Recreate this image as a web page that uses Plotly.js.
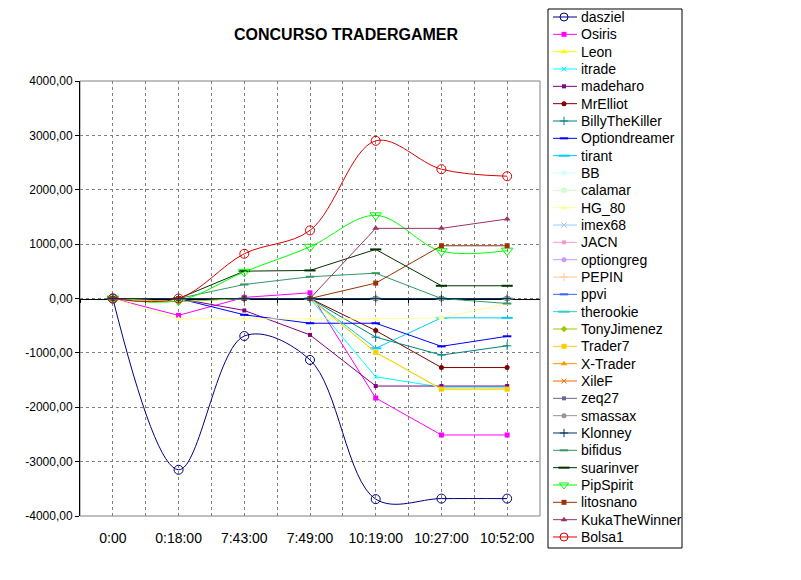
<!DOCTYPE html>
<html>
<head>
<meta charset="utf-8">
<script src="https://cdn.plot.ly/plotly-3.0.1.min.js"></script>
<style>html,body{margin:0;padding:0;background:#fff}#chart{width:801px;height:580px}</style>
</head>
<body>
<div id="chart"></div>
<script>
// ---------- DATA ----------
const categories = ['0:00', '0:18:00', '7:43:00', '7:49:00', '10:19:00', '10:27:00', '10:52:00'];

const dasziel        = [0, -3150, -690, -1130, -3690, -3680, -3680];
const Osiris         = [0, -310, 20, 105, -1830, -2510, -2510];
const Leon           = [0, 0, 0, 0, -990, -1665, -1665];
const itrade         = [0, 0, 0, 0, -1440, -1630, -1630];
const madeharo       = [0, 0, -220, -670, -1610, -1610, -1610];
const MrElliot       = [0, 0, 0, 0, -590, -1270, -1270];
const BillyTheKiller = [0, 0, 0, 0, -710, -1040, -870];
const Optiondreamer  = [0, 0, -300, -455, -455, -880, -695];
const tirant         = [0, 0, 0, 0, -916, -356, -356];
const BB             = [0, 0, 0, 0, 0, 0, 0];
const calamar        = [0, 0, 0, 0, -990, -1680, -1680];
const HG_80          = [0, -375, -375, -375, -375, -356, -92];
const imex68         = [0, 0, 0, 0, 0, 0, 0];
const JACN           = [0, 0, 0, 0, 0, 0, 0];
const optiongreg     = [0, 0, 0, 0, 0, 0, 0];
const PEPIN          = [0, 0, 0, 0, 0, 0, 0];
const ppvi           = [0, 0, 0, 0, 0, 0, 0];
const therookie      = [0, 0, 0, 0, 0, 0, 0];
const TonyJimenez    = [0, -60, 0, 0, 0, 0, 0];
const Trader7        = [0, 0, 0, 0, -990, -1665, -1665];
const XTrader        = [0, 0, 0, 0, 0, 0, 0];
const XileF          = [0, 0, 0, 0, 0, 0, 0];
const zeq27          = [0, 0, 0, 0, 0, 0, 0];
const smassax        = [0, 0, 0, 0, 0, 0, 0];
const Klonney        = [0, 0, 0, 0, 0, 0, 0];
const bifidus        = [0, 0, 258, 400, 466, 0, -92];
const suarinver      = [0, 0, 503, 516, 903, 234, 234];
const PipSpirit      = [0, -40, 490, 950, 1530, 870, 880];
const litosnano      = [0, 0, 0, 0, 283, 970, 970];
const KukaTheWinner  = [0, 0, 0, 0, 1290, 1290, 1462];
const Bolsa1         = [0, 0, 823, 1253, 2900, 2378, 2249];

const seriesNames = ['dasziel','Osiris','Leon','itrade','madeharo','MrElliot','BillyTheKiller','Optiondreamer','tirant','BB','calamar','HG_80','imex68','JACN','optiongreg','PEPIN','ppvi','therookie','TonyJimenez','Trader7','X-Trader','XileF','zeq27','smassax','Klonney','bifidus','suarinver','PipSpirit','litosnano','KukaTheWinner','Bolsa1'];
const seriesValues = [dasziel,Osiris,Leon,itrade,madeharo,MrElliot,BillyTheKiller,Optiondreamer,tirant,BB,calamar,HG_80,imex68,JACN,optiongreg,PEPIN,ppvi,therookie,TonyJimenez,Trader7,XTrader,XileF,zeq27,smassax,Klonney,bifidus,suarinver,PipSpirit,litosnano,KukaTheWinner,Bolsa1];

const yTickVals = [-4000, -3000, -2000, -1000, 0, 1000, 2000, 3000, 4000];
const yTickText = ['-4000,00', '-3000,00', '-2000,00', '-1000,00', '0,00', '1000,00', '2000,00', '3000,00', '4000,00'];

// ---------- STYLES ----------
const colors = ['#000080','#FF00FF','#FFFF00','#00FFFF','#800080','#800000','#008080','#0000FF','#00CCFF','#CCFFFF','#CCFFCC','#FFFF99','#99CCFF','#FF99CC','#CC99FF','#FFCC99','#3366FF','#33CCCC','#99CC00','#FFCC00','#FF9900','#FF6600','#666699','#969696','#003366','#339966','#003300','#00FF00','#993300','#993366','#DD0000'];
const symbols = ['circle-open','square','triangle-up','x-thin-open','square','circle','cross-thin-open','line-ew-open','line-ew-open','diamond','square','triangle-up','x-thin-open','square','circle','cross-thin-open','line-ew-open','line-ew-open','diamond','square','triangle-up','x-thin-open','square','circle','cross-thin-open','line-ew-open','line-ew-open','triangle-down-open','square','triangle-up','circle-open'];
const sizes = [9,5,6,5,4,5,6,6,8,5,5,6,5,4,5,6,6,8,5,5,6,5,4,5,6,6,8,10,5,6,9];
const smooth = {dasziel: true, PipSpirit: true, Bolsa1: true};
const onAxis2 = {Klonney: true};

const W = 801, H = 580;
const plotL = 80, plotR = 540, plotT = 81, plotB = 516;
const legL = 548, legR = 682, legT = 9, legB = 548, legRow0 = 17, legGap = 17.333;
const FONT = 'Liberation Sans, Arial, sans-serif';

const xd = [plotL / W, plotR / W];
const yd = [1 - plotB / H, 1 - plotT / H];

function markerLineWidth(sym) {
  if (sym.indexOf('line-') === 0) return 2;
  return sym.indexOf('open') >= 0 ? 1 : 0;
}

const traces = [];
seriesNames.forEach((name, i) => {
  traces.push({
    type: 'scatter', mode: 'lines+markers', name: name,
    x: categories, y: seriesValues[i],
    xaxis: onAxis2[name] ? 'x2' : 'x', yaxis: 'y',
    line: {color: colors[i], width: 1, shape: smooth[name] ? 'spline' : 'linear', smoothing: 1},
    marker: {symbol: symbols[i], size: sizes[i], color: colors[i],
             line: {color: colors[i], width: markerLineWidth(symbols[i])}},
    showlegend: false, hoverinfo: 'skip'
  });
});

// custom legend (one row per series, drawn in a hidden subplot)
const annotations = [];
seriesNames.forEach((name, i) => {
  traces.push({
    type: 'scatter', mode: 'lines+markers',
    x: [5, 16, 29], y: [i, i, i], xaxis: 'x3', yaxis: 'y3',
    line: {color: colors[i], width: 1},
    marker: {symbol: symbols[i], size: Math.min(sizes[i], 8), color: colors[i], opacity: [0, 1, 0],
             line: {color: colors[i], width: markerLineWidth(symbols[i])}},
    showlegend: false, hoverinfo: 'skip'
  });
  annotations.push({xref: 'x3', yref: 'y3', x: 31, y: i, text: name, showarrow: false,
    xanchor: 'left', yanchor: 'middle', font: {family: FONT, size: 14, color: '#000'}});
});

const layout = {
  width: W, height: H,
  margin: {l: 0, r: 0, t: 0, b: 0},
  paper_bgcolor: '#fff', plot_bgcolor: 'rgba(0,0,0,0)',
  font: {family: FONT, size: 12, color: '#000'},
  hovermode: false,
  showlegend: false,
  title: {text: 'CONCURSO TRADERGAMER', x: 346 / W, xref: 'container', xanchor: 'center',
          y: 1 - 34 / H, yref: 'container', yanchor: 'middle',
          font: {family: FONT, size: 16, weight: 'bold', color: '#000'}},
  xaxis: {domain: xd, anchor: 'y', type: 'category', range: [-0.5, 6.5],
          showgrid: true, gridcolor: '#808080', griddash: '3px,3px', gridwidth: 1,
          showline: false, zeroline: false,
          ticks: 'outside', ticklen: 9, tickcolor: 'rgba(0,0,0,0)',
          tickfont: {family: FONT, size: 14, color: '#000'}},
  xaxis2: {overlaying: 'x', anchor: 'free', position: (yd[0] + yd[1]) / 2, type: 'category',
           range: [-0.5, 6.5], tickson: 'boundaries',
           showgrid: true, gridcolor: '#808080', griddash: '3px,3px', gridwidth: 1,
           showline: true, linecolor: '#000', linewidth: 1, zeroline: false,
           ticks: 'outside', ticklen: 3, tickcolor: '#000', showticklabels: false,
           layer: 'below traces'},
  yaxis: {domain: yd, anchor: 'x', range: [-4000, 4000], tickmode: 'array',
          tickvals: yTickVals, ticktext: yTickText,
          showgrid: true, gridcolor: '#808080', griddash: '3px,3px', gridwidth: 1,
          zeroline: false, showline: true, linecolor: '#000', linewidth: 1,
          ticks: 'outside', ticklen: 4, tickcolor: '#000',
          tickfont: {family: FONT, size: 12, color: '#000'}},
  xaxis3: {domain: [legL / W, legR / W], anchor: 'y3', range: [0, legR - legL], visible: false, fixedrange: true},
  yaxis3: {domain: [1 - legB / H, 1 - legT / H], anchor: 'x3',
           range: [(legB - legRow0) / legGap, -(legRow0 - legT) / legGap], visible: false, fixedrange: true},
  shapes: [
    {type: 'rect', xref: 'paper', yref: 'paper', x0: xd[0], x1: xd[1], y0: yd[0], y1: yd[1],
     line: {color: '#808080', width: 1}, layer: 'below'},
    {type: 'rect', xref: 'paper', yref: 'paper', x0: legL / W, x1: legR / W, y0: 1 - legB / H, y1: 1 - legT / H,
     line: {color: '#000', width: 1}, fillcolor: 'rgba(0,0,0,0)', layer: 'below'}
  ],
  annotations: annotations
};

Plotly.newPlot('chart', traces, layout, {displayModeBar: false, staticPlot: true});
</script>
</body>
</html>
